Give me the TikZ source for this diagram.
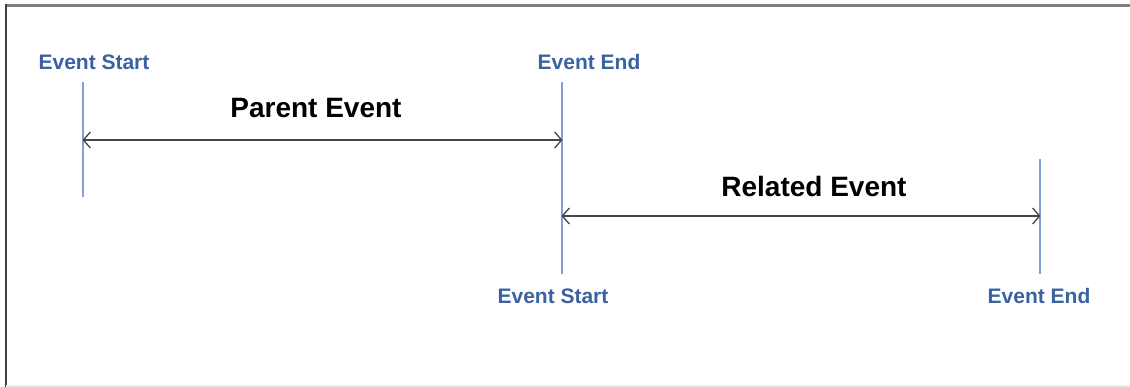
\documentclass[tikz,border=0pt]{standalone}
\usepackage{fontspec}
\setmainfont{Liberation Sans}
\usetikzlibrary{arrows.meta}
\definecolor{lblblue}{RGB}{58,98,160}
\definecolor{tickblue}{RGB}{128,160,218}
\definecolor{arrgray}{RGB}{70,70,70}
\tikzset{
  lbl/.style={font=\bfseries\fontsize{21}{25}\selectfont, text=lblblue, inner sep=0pt, anchor=base},
  title/.style={font=\bfseries\fontsize{28}{34}\selectfont, text=black, inner sep=0pt, anchor=base},
  tick/.style={draw=tickblue, line width=2pt},
  span/.style={draw=arrgray, line width=2.2pt, {Straight Barb[length=7pt,width=16pt,line width=1.3pt]}-{Straight Barb[length=7pt,width=16pt,line width=1.3pt]}, shorten <=-0.5pt, shorten >=-0.5pt}
}
\begin{document}
\begin{tikzpicture}[x=1pt,y=-1pt]
\useasboundingbox (0,0) rectangle (1130,387);
% frame
\draw[draw=gray!100, line width=3pt] (5,5.5) -- (1130,5.5);
\draw[draw=black!75, line width=2.5pt] (6,4) -- (6,387);
\draw[draw=black!8, line width=2pt] (6,386) -- (1130,386);
% coordinates
\coordinate (t1a) at (83,82);
\coordinate (t1b) at (83,197);
\coordinate (t2a) at (562,82);
\coordinate (t2b) at (562,274);
\coordinate (t3a) at (1040,159);
\coordinate (t3b) at (1040,274);
\coordinate (p1) at (83,140);
\coordinate (p2) at (562,140);
\coordinate (r1) at (562,216);
\coordinate (r2) at (1040,216);
% ticks
\draw[tick] (t1a) -- (t1b);
\draw[tick] (t2a) -- (t2b);
\draw[tick] (t3a) -- (t3b);
% spans
\draw[span] (p1) -- (p2);
\draw[span] (r1) -- (r2);
% labels
\node[lbl] (ls1) at (94,70) {Event Start};
\node[lbl] (le1) at (589,70) {Event End};
\node[lbl] (ls2) at (553,304) {Event Start};
\node[lbl] (le2) at (1039,304) {Event End};
\node[title] (pe) at (316,118) {Parent Event};
\node[title] (re) at (814,197) {Related Event};
\end{tikzpicture}
\end{document}
